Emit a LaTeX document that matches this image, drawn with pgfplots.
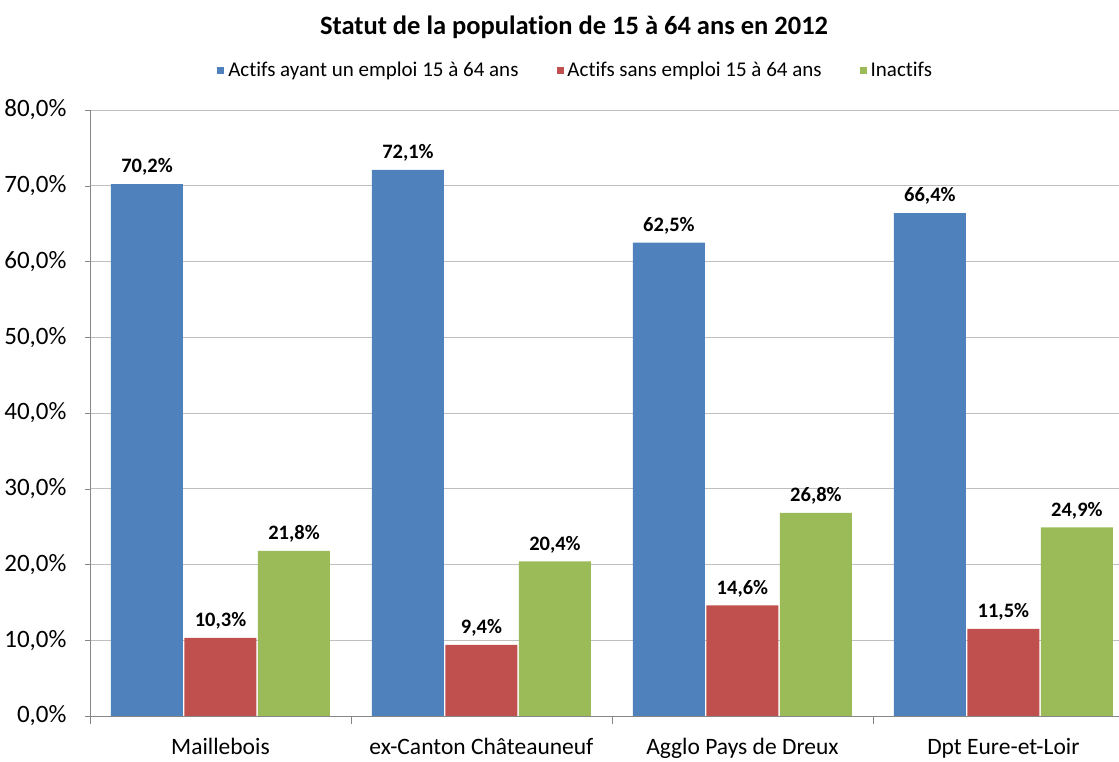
\documentclass[border=0pt]{standalone}
\usepackage{pgfplots}
\pgfplotsset{compat=1.18}
\usepackage{fontspec}
\setmainfont{Carlito}[Ligatures=NoCommon]

\definecolor{actifs}{HTML}{4F81BD}
\definecolor{chomeurs}{HTML}{C0504D}
\definecolor{inactifs}{HTML}{9BBB59}
\definecolor{gridgray}{HTML}{BFBFBF}
\definecolor{axisgray}{HTML}{868686}

\newcommand{\fs}[1]{\fontsize{#1bp}{#1bp}\selectfont}

\begin{document}
\begin{tikzpicture}
\useasboundingbox (0,0) rectangle (1119bp,762bp);
\node[font=\bfseries\fs{26.5}] at (574bp,735bp) {Statut de la population de 15 à 64 ans en 2012};
\begin{axis}[
    at={(90bp,46bp)}, anchor=south west,
    scale only axis,
    width=1029bp, height=606bp,
    ybar=1.5bp, bar width=72bp,
    xmin=-0.5, xmax=3.443,
    ymin=0, ymax=80,
    ytick={0,10,...,80},
    xtick={0,1,2,3},
    xticklabels={Maillebois, ex-Canton Châteauneuf, Agglo Pays de Dreux, Dpt Eure-et-Loir},
    minor xtick={-0.5,0.5,1.5,2.5},
    xtick style={draw=none},
    minor x tick style={draw=axisgray},
    ytick style={draw=axisgray},
    tick align=outside,
    major tick length=5bp,
    minor tick length=8bp,
    axis x line*=bottom, axis y line*=left,
    axis line style={draw=axisgray, -},
    ymajorgrids, grid style={draw=gridgray, line width=0.8bp},
    /pgf/number format/.cd, assume math mode=true, use comma, fixed, fixed zerofill, precision=1,
    /pgfplots/.cd,
    yticklabel={\pgfmathprintnumber{\tick}\%},
    yticklabel style={font=\fs{25}, xshift=-15bp},
    xticklabel style={font=\fs{23.5}, yshift=-14bp},
    nodes near coords={\pgfmathprintnumber{\pgfplotspointmeta}\%},
    nodes near coords style={font=\bfseries\fs{20.5}, yshift=5bp},
    legend columns=3,
    legend style={at={(0.472,1.066)}, anchor=center, draw=none, font=\fs{21},
        /tikz/every odd column/.append style={column sep=2bp},
        /tikz/every even column/.append style={column sep=36bp}},
    legend image code/.code={\fill[#1, draw=none] (0bp,-3.5bp) rectangle (7bp,3.5bp);},
]
\addplot[fill=actifs, draw=none] coordinates {(0,70.2) (1,72.1) (2,62.5) (3,66.4)};
\addplot[fill=chomeurs, draw=none] coordinates {(0,10.3) (1,9.4) (2,14.6) (3,11.5)};
\addplot[fill=inactifs, draw=none] coordinates {(0,21.8) (1,20.4) (2,26.8) (3,24.9)};
\legend{Actifs ayant un emploi 15 à 64 ans, Actifs sans emploi 15 à 64 ans, Inactifs}
\end{axis}
\end{tikzpicture}
\end{document}
